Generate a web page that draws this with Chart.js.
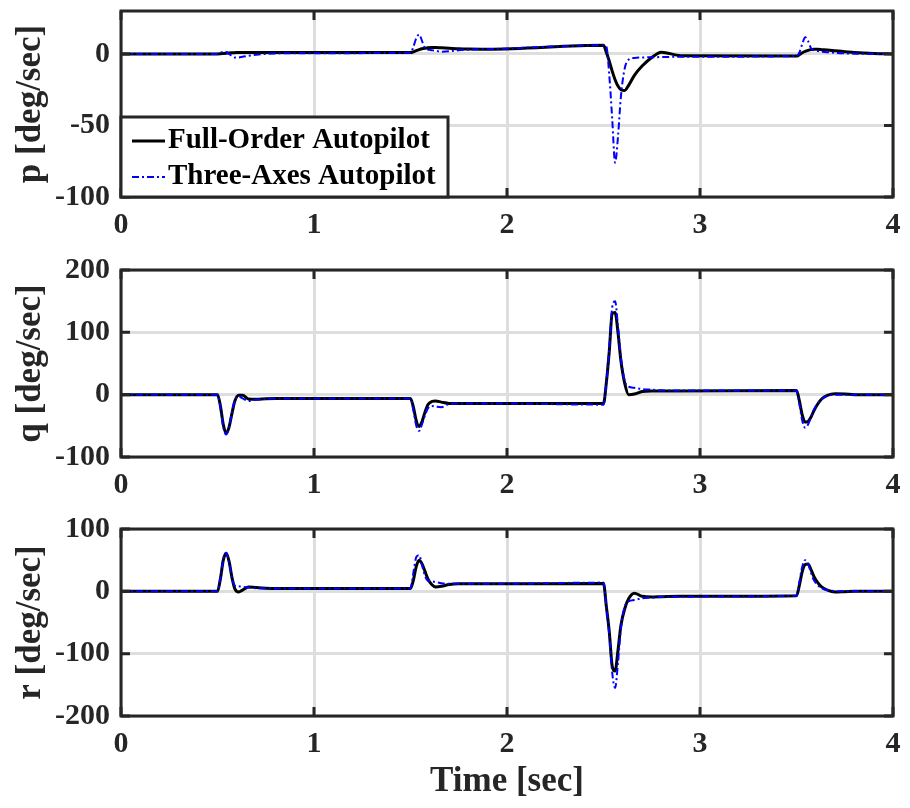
<!DOCTYPE html>
<html>
<head>
<meta charset="utf-8">
<script src="https://cdn.jsdelivr.net/npm/chart.js@4.4.0/dist/chart.umd.min.js"></script>
<style>
  html, body { margin: 0; padding: 0; background: #fff; }
  #wrap { position: relative; width: 910px; height: 808px; }
  canvas { position: absolute; left: 0; }
</style>
</head>
<body>
<div id="wrap">
  <canvas id="chP" width="910" height="250" style="top:0px"></canvas>
  <canvas id="chQ" width="910" height="250" style="top:259px"></canvas>
  <canvas id="chR" width="910" height="290" style="top:518px"></canvas>
</div>
<script>
// time samples [sec]
const time = [0,
  0.5, 0.515, 0.53, 0.545, 0.56, 0.575, 0.59, 0.61, 0.63, 0.66, 0.7, 0.75, 0.8, 0.9,
  1.5, 1.515, 1.53, 1.545, 1.56, 1.575, 1.59, 1.61, 1.63, 1.66, 1.7, 1.75, 1.8, 1.9,
  2.5, 2.515, 2.53, 2.545, 2.56, 2.575, 2.59, 2.61, 2.63, 2.66, 2.7, 2.75, 2.8, 2.9,
  3.5, 3.515, 3.53, 3.545, 3.56, 3.575, 3.59, 3.61, 3.63, 3.66, 3.7, 3.75, 3.8, 3.9,
  4];

// roll rate p [deg/sec]
const pFull = [0,
  0, 0.1, 0.3, 0.5, 0.7, 0.8, 0.9, 1, 1, 1, 1, 1, 1, 1,
  1, 1.5, 2.3, 3, 3.6, 4, 4.3, 4.5, 4.5, 4.3, 4, 3.6, 3.4, 3.3,
  6, 1, -5, -12, -18, -22.5, -25, -25.5, -22, -15, -8.5, -2.5, 1.2, -1.2,
  -1.5, -0.5, 0.8, 1.8, 2.5, 3, 3.2, 3.2, 3, 2.7, 2.2, 1.6, 1, 0.3,
  0];
const pThree = [0,
  0, 0.8, 1.5, 1.4, 0, -1.5, -2.5, -2.5, -2, -1.3, -0.6, 0, 0.3, 0.5,
  0.8, 5, 11, 13.6, 9, 4, 3, 2.6, 2.2, 1.6, 1.8, 2.6, 3, 3.3,
  6, 5, -15, -45, -76, -58, -30, -10, -4, -2.8, -2.5, -2.3, -2.2, -2,
  -1.5, 1, 7, 11.7, 9, 4, 2.5, 2, 1.6, 1.2, 0.8, 0.4, 0.2, 0,
  0];

// pitch rate q [deg/sec]
const qFull = [0,
  0, -18, -48, -62, -52, -30, -10, -1, -1, -7, -7.5, -6.5, -6, -6,
  -6, -20, -42, -51, -43, -28, -16, -11, -10, -12, -14, -14, -14, -14,
  -14, 20, 70, 130, 132, 100, 55, 18, 0, 1, 5, 6, 6, 6,
  6.5, -10, -33, -44, -43, -36, -26, -15, -7, -1, 1.5, 1, 0, 0,
  0];
const qThree = [0,
  0, -20, -52, -64, -52, -28, -9, -3, -6, -10, -8, -6.5, -6, -6,
  -6, -25, -50, -58, -47, -33, -22, -18, -19, -20, -15, -14, -14, -14,
  -16, 20, 75, 140, 150, 110, 60, 22, 13, 11, 9, 8, 7, 6.5,
  6.5, -15, -42, -53, -48, -36, -24, -14, -7, -2, 0, 0, 0, 0,
  0];

// yaw rate r [deg/sec]
const rFull = [0,
  0, 20, 50, 61, 48, 22, 4, -1, 2, 7, 6, 5, 4.5, 4.5,
  4.5, 18, 40, 50, 44, 32, 20, 11, 7, 8, 11, 12, 12, 12,
  12.5, -25, -65, -120, -128, -95, -55, -28, -12, -3, -8, -9, -8.5, -8,
  -7, 10, 32, 43, 44, 35, 24, 14, 7, 2, -1, -0.5, 0, 0,
  0];
const rThree = [0,
  0, 22, 52, 62, 47, 22, 9, 8, 7, 6, 5, 5, 4.5, 4.5,
  4.5, 30, 55, 58, 42, 25, 17, 16, 15, 13, 12, 12, 12, 12,
  14, -25, -70, -130, -155, -115, -60, -25, -16, -14, -11, -10, -9, -8.5,
  -7, 15, 40, 50, 44, 30, 18, 10, 5, 2, 0.5, 0, 0, 0,
  0];

// axis ticks
const timeTicks = [0, 1, 2, 3, 4];
const pTicks = [-100, -50, 0];
const qTicks = [-100, 0, 100, 200];
const rTicks = [-200, -100, 0, 100];

const FONT = '"Liberation Serif", "Times New Roman", serif';
const INK = '#262626';
const GRID = '#dedede';
const tickFont = { family: FONT, size: 30, weight: 'bold' };
const titleFont = { family: FONT, size: 35, weight: 'bold', lineHeight: 1 };

function toPoints(ys) {
  return time.map((t, i) => ({ x: t, y: ys[i] }));
}

// axes box + inward tick marks, drawn over the data like MATLAB does
const frame = {
  id: 'frame',
  afterDatasetsDraw(chart) {
    const { ctx, chartArea: a, scales } = chart;
    ctx.save();
    ctx.strokeStyle = INK;
    ctx.lineWidth = 3;
    ctx.beginPath();
    scales.x.ticks.forEach(t => {
      const px = scales.x.getPixelForValue(t.value);
      ctx.moveTo(px, a.top); ctx.lineTo(px, a.top + 9);
      ctx.moveTo(px, a.bottom); ctx.lineTo(px, a.bottom - 9);
    });
    scales.y.ticks.forEach(t => {
      const py = scales.y.getPixelForValue(t.value);
      ctx.moveTo(a.left, py); ctx.lineTo(a.left + 9, py);
      ctx.moveTo(a.right, py); ctx.lineTo(a.right - 9, py);
    });
    ctx.stroke();
    ctx.strokeRect(a.left, a.top, a.width, a.height);
    ctx.restore();
  }
};

// legend box in the lower left corner of the first panel
const legendOrder = [1, 0];
const boxLegend = {
  id: 'boxLegend',
  afterDraw(chart) {
    const { ctx, chartArea: a } = chart;
    const x0 = a.left, x1 = 448, y1 = a.bottom, y0 = a.bottom - 80;
    ctx.save();
    ctx.fillStyle = '#fff';
    ctx.fillRect(x0, y0, x1 - x0, y1 - y0);
    ctx.strokeStyle = INK;
    ctx.lineWidth = 3;
    ctx.strokeRect(x0, y0, x1 - x0, y1 - y0);
    legendOrder.forEach((idx, row) => {
      const ds = chart.data.datasets[idx];
      const cy = y0 + 24 + row * 36;
      ctx.beginPath();
      ctx.strokeStyle = ds.borderColor;
      ctx.lineWidth = ds.borderWidth;
      ctx.setLineDash(ds.borderDash || []);
      ctx.moveTo(x0 + 11, cy);
      ctx.lineTo(x0 + 44, cy);
      ctx.stroke();
      ctx.setLineDash([]);
      ctx.fillStyle = '#000';
      ctx.font = 'bold 29px ' + FONT;
      ctx.textBaseline = 'middle';
      ctx.textAlign = 'left';
      ctx.fillText(ds.label, x0 + 47, cy);
    });
    ctx.restore();
  }
};

function makeChart(id, full, three, yMin, yMax, yTicks, yTitle, xTitle, axisH, extra) {
  return new Chart(document.getElementById(id), {
    type: 'line',
    data: {
      datasets: [
        { label: 'Three-Axes Autopilot', data: toPoints(three), borderColor: '#0000ff',
          borderWidth: 2, borderDash: [7, 3, 2, 3], order: 0 },
        { label: 'Full-Order Autopilot', data: toPoints(full), borderColor: '#000000',
          borderWidth: 3, order: 1 }
      ]
    },
    options: {
      responsive: false,
      animation: false,
      devicePixelRatio: 1,
      events: [],
      elements: {
        point: { radius: 0 },
        line: { cubicInterpolationMode: 'monotone', fill: false }
      },
      layout: { padding: { left: 0, right: 17, top: 11, bottom: 0 } },
      plugins: { legend: { display: false }, tooltip: { enabled: false } },
      scales: {
        x: {
          type: 'linear', min: 0, max: 4,
          afterBuildTicks: s => { s.ticks = timeTicks.map(v => ({ value: v })); },
          afterFit: s => { s.height = axisH; s.paddingLeft = 0; s.paddingRight = 0; },
          grid: { color: GRID, lineWidth: 3, drawTicks: false },
          border: { display: false },
          ticks: { font: tickFont, color: INK, padding: 10, maxRotation: 0 },
          title: { display: !!xTitle, text: xTitle, font: titleFont, color: INK,
                   padding: { top: 0, bottom: 9 } }
        },
        y: {
          type: 'linear', min: yMin, max: yMax,
          afterBuildTicks: s => { s.ticks = yTicks.map(v => ({ value: v })); },
          afterFit: s => { s.width = 121; s.paddingTop = 0; s.paddingBottom = 0; },
          grid: { color: GRID, lineWidth: 3, drawTicks: false },
          border: { display: false },
          ticks: { font: tickFont, color: INK, padding: 11 },
          title: { display: true, text: yTitle, font: titleFont, color: INK,
                   padding: { top: 13, bottom: 0 } }
        }
      }
    },
    plugins: [frame].concat(extra || [])
  });
}

makeChart('chP', pFull, pThree, -100, 30, pTicks, 'p [deg/sec]', '', 53, [boxLegend]);
makeChart('chQ', qFull, qThree, -100, 200, qTicks, 'q [deg/sec]', '', 52);
makeChart('chR', rFull, rThree, -200, 100, rTicks, 'r [deg/sec]', 'Time [sec]', 92);
</script>
</body>
</html>
